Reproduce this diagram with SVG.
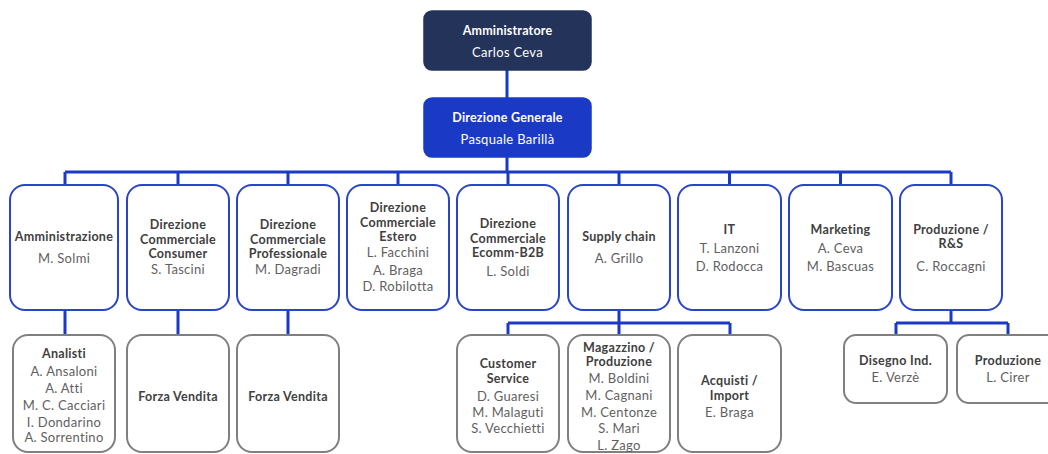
<svg xmlns="http://www.w3.org/2000/svg" width="1048" height="454" viewBox="0 0 1048 454">
<style>
.bg{fill:#ffffff}
.top{fill:#233359;stroke:#233359;stroke-width:1.5}
.dg{fill:#1A3AC6;stroke:#1A3AC6;stroke-width:1.5}
.mid{fill:#ffffff;stroke:#2945C9;stroke-width:2}
.low{fill:#ffffff;stroke:#808080;stroke-width:2}
.conn{fill:none;stroke:#1A3AC6;stroke-width:3}
text{font-family:Lato,"Open Sans","Liberation Sans",sans-serif;text-anchor:middle}
.t{font-weight:bold;fill:#404040;font-size:12.5px;letter-spacing:0.3px}
.n{fill:#5f5f5f;font-size:13px;letter-spacing:0.3px}
.tw{font-weight:bold;fill:#ffffff;font-size:12.5px;letter-spacing:0.2px}
.nw{fill:#ffffff;font-size:13px;letter-spacing:0.3px}
</style>
<rect class="bg" x="0" y="0" width="1048" height="454"/>
<g id="connectors">
<path class="conn" d="M507 70V98M507 157V172M65 172H951M65 172V185M178 172V185M288 172V185M398 172V185M508 172V185M619 172V185M729.5 172V185M840.5 172V185M951 172V185"/>
<path class="conn" d="M65 310V335M178 310V335M288 310V335"/>
<path class="conn" d="M619 310V323M508 323H730M508 323V335M619 323V335M730 323V335"/>
<path class="conn" d="M951 310V323M896 323H1008M896 323V335M1008 323V335"/>
</g>
<g id="amministratore">
<rect class="top" x="424" y="11" width="167" height="59" rx="8"/>
<text class="tw" x="507.5" y="35">Amministratore</text>
<text class="nw" x="507.5" y="57">Carlos Ceva</text>
</g>
<g id="direzione-generale">
<rect class="dg" x="424" y="98" width="167" height="59" rx="8"/>
<text class="tw" x="507.5" y="122">Direzione Generale</text>
<text class="nw" x="507.5" y="144">Pasquale Barillà</text>
</g>
<g id="amministrazione">
<rect class="mid" x="10" y="185" width="108" height="125" rx="15"/>
<text class="t" x="64" y="241">Amministrazione</text>
<text class="n" x="64" y="263">M. Solmi</text>
</g>
<g id="dc-consumer">
<rect class="mid" x="127" y="185" width="102" height="125" rx="15"/>
<text class="t" x="178" y="229">Direzione</text>
<text class="t" x="178" y="244">Commerciale</text>
<text class="t" x="178" y="258">Consumer</text>
<text class="n" x="178" y="274">S. Tascini</text>
</g>
<g id="dc-professionale">
<rect class="mid" x="237" y="185" width="102" height="125" rx="15"/>
<text class="t" x="288" y="229">Direzione</text>
<text class="t" x="288" y="244">Commerciale</text>
<text class="t" x="288" y="258">Professionale</text>
<text class="n" x="288" y="274">M. Dagradi</text>
</g>
<g id="dc-estero">
<rect class="mid" x="347" y="185" width="102" height="125" rx="15"/>
<text class="t" x="398" y="212">Direzione</text>
<text class="t" x="398" y="227">Commerciale</text>
<text class="t" x="398" y="241">Estero</text>
<text class="n" x="398" y="257">L. Facchini</text>
<text class="n" x="398" y="275">A. Braga</text>
<text class="n" x="398" y="291">D. Robilotta</text>
</g>
<g id="dc-ecomm">
<rect class="mid" x="457" y="185" width="102" height="125" rx="15"/>
<text class="t" x="508" y="228">Direzione</text>
<text class="t" x="508" y="243">Commerciale</text>
<text class="t" x="508" y="257">Ecomm-B2B</text>
<text class="n" x="508" y="276">L. Soldi</text>
</g>
<g id="supply-chain">
<rect class="mid" x="568" y="185" width="102" height="125" rx="15"/>
<text class="t" x="619" y="241">Supply chain</text>
<text class="n" x="619" y="263">A. Grillo</text>
</g>
<g id="it">
<rect class="mid" x="678" y="185" width="103" height="125" rx="15"/>
<text class="t" x="729.5" y="234">IT</text>
<text class="n" x="729.5" y="253">T. Lanzoni</text>
<text class="n" x="729.5" y="271">D. Rodocca</text>
</g>
<g id="marketing">
<rect class="mid" x="789" y="185" width="103" height="125" rx="15"/>
<text class="t" x="840.5" y="234">Marketing</text>
<text class="n" x="840.5" y="253">A. Ceva</text>
<text class="n" x="840.5" y="271">M. Bascuas</text>
</g>
<g id="produzione-rs">
<rect class="mid" x="900" y="185" width="102" height="125" rx="15"/>
<text class="t" x="951" y="234">Produzione /</text>
<text class="t" x="951" y="248">R&amp;S</text>
<text class="n" x="951" y="271">C. Roccagni</text>
</g>
<g id="analisti">
<rect class="low" x="13" y="335" width="102" height="117" rx="15"/>
<text class="t" x="64" y="358">Analisti</text>
<text class="n" x="64" y="376">A. Ansaloni</text>
<text class="n" x="64" y="393">A. Atti</text>
<text class="n" x="64" y="410">M. C. Cacciari</text>
<text class="n" x="64" y="427">I. Dondarino</text>
<text class="n" x="64" y="442">A. Sorrentino</text>
</g>
<g id="forza-vendita-1">
<rect class="low" x="127" y="335" width="102" height="117" rx="15"/>
<text class="t" x="178" y="401">Forza Vendita</text>
</g>
<g id="forza-vendita-2">
<rect class="low" x="237" y="335" width="102" height="117" rx="15"/>
<text class="t" x="288" y="401">Forza Vendita</text>
</g>
<g id="customer-service">
<rect class="low" x="457" y="335" width="102" height="117" rx="15"/>
<text class="t" x="508" y="368">Customer</text>
<text class="t" x="508" y="383">Service</text>
<text class="n" x="508" y="401">D. Guaresi</text>
<text class="n" x="508" y="417">M. Malaguti</text>
<text class="n" x="508" y="433">S. Vecchietti</text>
</g>
<g id="magazzino">
<rect class="low" x="568" y="335" width="102" height="117" rx="15"/>
<text class="t" x="619" y="352">Magazzino /</text>
<text class="t" x="619" y="366">Produzione</text>
<text class="n" x="619" y="383">M. Boldini</text>
<text class="n" x="619" y="400">M. Cagnani</text>
<text class="n" x="619" y="417">M. Centonze</text>
<text class="n" x="619" y="433">S. Mari</text>
<text class="n" x="619" y="450">L. Zago</text>
</g>
<g id="acquisti">
<rect class="low" x="678" y="335" width="103" height="117" rx="15"/>
<text class="t" x="729.5" y="385">Acquisti /</text>
<text class="t" x="729.5" y="400">Import</text>
<text class="n" x="729.5" y="417">E. Braga</text>
</g>
<g id="disegno">
<rect class="low" x="844" y="335" width="103" height="68" rx="12"/>
<text class="t" x="895.5" y="365">Disegno Ind.</text>
<text class="n" x="895.5" y="382">E. Verzè</text>
</g>
<g id="produzione">
<rect class="low" x="957" y="335" width="102" height="68" rx="12"/>
<text class="t" x="1008" y="365">Produzione</text>
<text class="n" x="1008" y="382">L. Cirer</text>
</g>
</svg>
